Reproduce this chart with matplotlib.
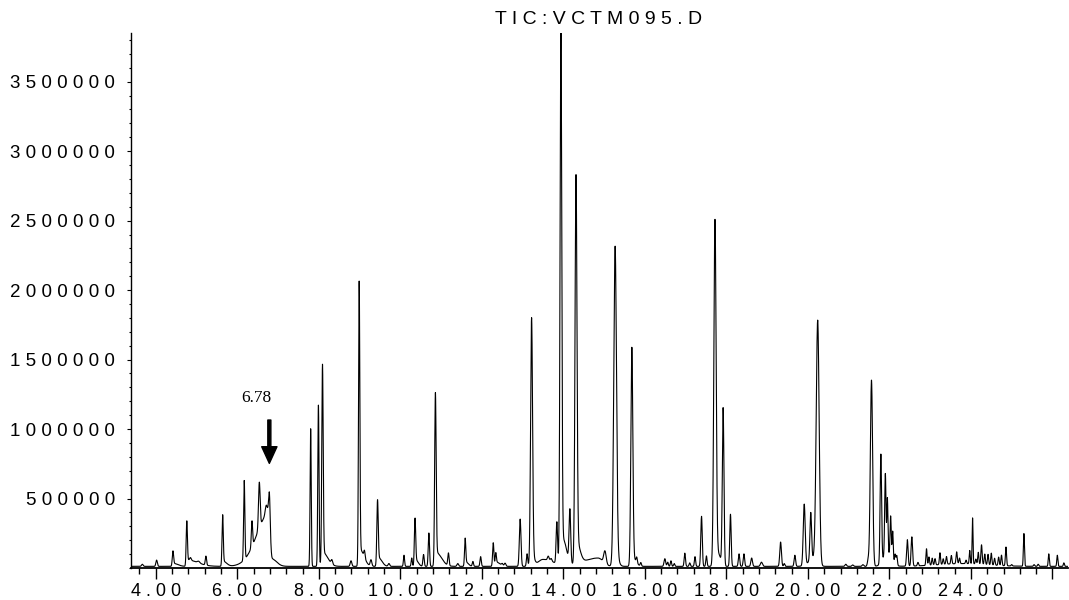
import numpy as np
import matplotlib.pyplot as plt
from matplotlib.ticker import FixedLocator, MultipleLocator

# ==============================
# DATA  (peak table)
# ==============================
peak_rt = [3.67, 4.02, 4.42, 4.76, 4.85, 5.05, 5.23, 5.64, 6.17, 6.36, 6.54, 6.71, 6.79,
           7.80, 7.99, 8.09, 8.32, 8.79, 8.99, 9.12, 9.28, 9.44, 9.72, 10.09, 10.28, 10.36,
           10.57, 10.70, 10.86, 11.18, 11.41, 11.59, 11.78, 11.97, 12.28, 12.34, 12.50, 12.57,
           12.94, 13.11, 13.22, 13.63, 13.70, 13.84, 13.94, 14.16, 14.31, 15.02, 15.27, 15.68,
           15.80, 15.90, 16.49, 16.56, 16.64, 16.72, 16.98, 17.10, 17.23, 17.39, 17.51, 17.72,
           17.92, 18.10, 18.31, 18.43, 18.62, 18.86, 19.33, 19.42, 19.68, 19.91, 20.07, 20.24,
           20.93, 21.10, 21.35, 21.48, 21.56, 21.79, 21.90, 21.95, 22.03, 22.08, 22.14, 22.18,
           22.44, 22.55, 22.70, 22.91, 22.97, 23.05, 23.12, 23.24, 23.32, 23.40, 23.52, 23.65,
           23.72, 23.88, 23.97, 24.04, 24.12, 24.18, 24.26, 24.34, 24.42, 24.50, 24.58, 24.68,
           24.75, 24.86, 25.00, 25.30, 25.55, 25.65, 25.91, 26.12, 26.28]
peak_height = [15000, 45000, 105000, 300000, 20000, 12000, 65000, 350000, 570000, 185000, 330000, 70000, 165000,
               990000, 1160000, 1360000, 30000, 40000, 1980000, 50000, 45000, 460000, 20000, 80000, 60000, 320000,
               85000, 240000, 1190000, 90000, 20000, 185000, 35000, 70000, 170000, 80000, 15000, 22000,
               340000, 90000, 1730000, 30000, 20000, 300000, 3830000, 380000, 2680000, 90000, 2230000, 1540000,
               40000, 25000, 55000, 30000, 40000, 20000, 95000, 25000, 70000, 360000, 75000, 2460000,
               1130000, 375000, 90000, 90000, 60000, 30000, 175000, 20000, 80000, 440000, 340000, 1740000,
               15000, 10000, 12000, 45000, 1340000, 780000, 580000, 390000, 290000, 210000, 70000, 70000,
               190000, 210000, 25000, 120000, 60000, 50000, 45000, 85000, 40000, 55000, 60000, 85000,
               40000, 25000, 95000, 330000, 35000, 85000, 140000, 75000, 75000, 85000, 50000, 60000,
               75000, 135000, 10000, 235000, 12000, 15000, 90000, 80000, 25000]
peak_sigma = [.02, .018, .016, .015, .02, .03, .016, .015, .015, .016, .02, .025, .022,
              .014, .015, .017, .02, .02, .016, .015, .02, .017, .02, .014, .014, .016,
              .016, .016, .018, .016, .02, .015, .015, .016, .016, .015, .02, .02,
              .02, .016, .024, .02, .02, .018, .021, .02, .024, .03, .033, .024,
              .015, .015, .02, .015, .015, .015, .016, .015, .015, .018, .015, .028,
              .02, .017, .017, .017, .02, .025, .02, .015, .018, .024, .02, .036,
              .02, .02, .02, .02, .028, .018, .016, .013, .014, .014, .014, .015,
              .018, .018, .015, .014, .014, .014, .014, .014, .014, .014, .014, .015,
              .014, .014, .012, .011, .014, .014, .015, .014, .014, .014, .014, .014,
              .014, .014, .015, .013, .015, .015, .013, .013, .013]

# broad humps / tails (left and right widths)
hump_rt = [4.45, 4.78, 5.66, 6.78, 6.84, 8.10, 9.01, 9.47, 10.38, 10.88, 11.61, 12.36,
           13.24, 13.50, 14.00, 14.33, 14.85, 15.29, 15.70, 17.80, 20.15, 21.95, 23.80]
hump_height = [20000, 45000, 35000, 380000, 55000, 100000, 120000, 60000, 45000, 100000, 30000, 30000,
               70000, 50000, 180000, 150000, 60000, 80000, 60000, 90000, 60000, 100000, 20000]
hump_left = [.02, .02, .02, .30, .02, .03, .02, .02, .02, .02, .02, .02,
             .03, .12, .03, .03, .35, .05, .02, .06, .12, .10, .60]
hump_right = [.10, .25, .08, .025, .12, .12, .10, .08, .06, .13, .06, .08,
              .05, .25, .08, .08, .12, .06, .08, .06, .08, .10, .60]

baseline = 12000

y_ticks = [500000, 1000000, 1500000, 2000000, 2500000, 3000000, 3500000]
x_ticks = [4, 6, 8, 10, 12, 14, 16, 18, 20, 22, 24, 26]

# ==============================
# BUILD TRACE
# ==============================
t = np.arange(3.38, 26.38, 0.002)
tic = np.full_like(t, baseline, dtype=float)
for rt, h, s in zip(peak_rt, peak_height, peak_sigma):
    tic += h * np.exp(-0.5 * ((t - rt) / s) ** 2)
for rt, h, sl, sr in zip(hump_rt, hump_height, hump_left, hump_right):
    s = np.where(t < rt, sl, sr)
    tic += h * np.exp(-0.5 * ((t - rt) / s) ** 2)

# ==============================
# PLOT
# ==============================
plt.rcParams['font.family'] = ['Liberation Sans', 'DejaVu Sans']
fig = plt.figure(figsize=(10.69, 6.0), dpi=100)
ax = fig.add_axes([0.1221, 0.0533, 0.8769, 0.8917])

ax.plot(t, tic, color='black', lw=0.8)

ax.set_xlim(3.38, 26.38)
ax.set_ylim(0, 3.85e6)

for side in ['top', 'right']:
    ax.spines[side].set_visible(False)
ax.spines['left'].set_linewidth(1.0)
ax.spines['bottom'].set_linewidth(1.3)

ax.xaxis.set_major_locator(FixedLocator(x_ticks))
ax.set_xticklabels([" ".join(f"{v:.2f}") if v < 26 else "" for v in x_ticks])
ax.xaxis.set_minor_locator(MultipleLocator(0.4))
ax.yaxis.set_major_locator(FixedLocator(y_ticks))
ax.set_yticklabels([" ".join(str(v)) for v in y_ticks])
ax.yaxis.set_minor_locator(MultipleLocator(100000))

ax.tick_params(axis='x', which='major', length=8, width=1.0, pad=3, labelsize=13)
ax.tick_params(axis='x', which='minor', length=4.3, width=1.0)
ax.tick_params(axis='y', which='major', length=2.6, width=0.8, pad=8.5, labelsize=13.5)
ax.tick_params(axis='y', which='minor', length=1.5, width=0.8)

# title
fig.text(599 / 1069, 1 - 20 / 600, " ".join("TIC:VCTM095.D"),
         ha='center', va='center', fontsize=14)

# arrow + label for 6.78
ax.annotate('', xy=(6.786, 7.53e5), xytext=(6.786, 1.065e6),
            arrowprops=dict(width=2.2, headwidth=11, headlength=12, shrink=0,
                            facecolor='black', edgecolor='black'))
ax.text(6.455, 1.227e6, "6.78", family='Liberation Serif', fontsize=12.5,
        ha='center', va='center')

fig.savefig('out.png', dpi=100)
